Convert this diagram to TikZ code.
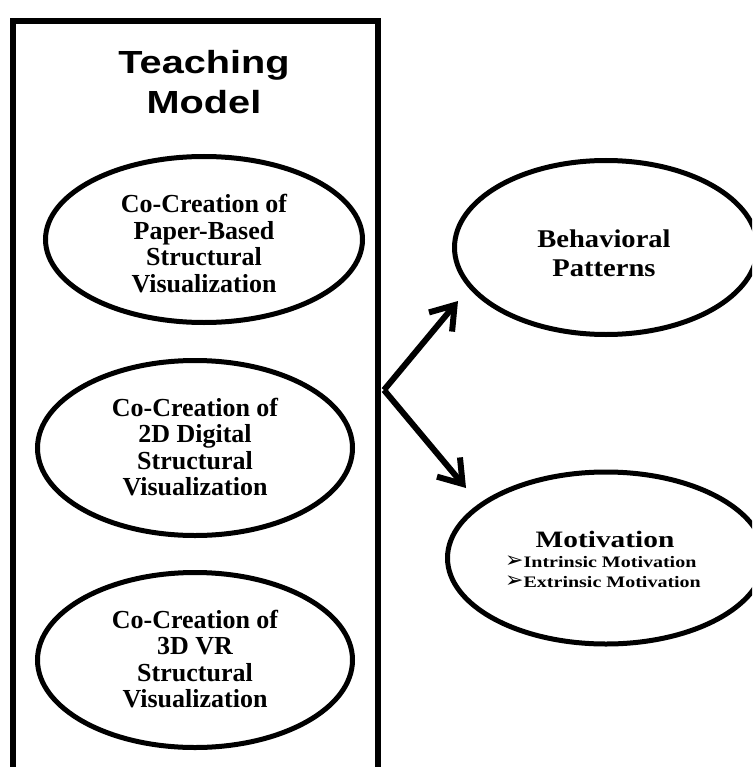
\documentclass[tikz,border=0pt]{standalone}
\usepackage{fontspec}
\setmainfont{Liberation Serif}
\newfontfamily\headfont{Liberation Sans}[FakeStretch=1.24]
\newfontfamily\wideserif{Liberation Serif}[FakeStretch=1.12]
\newfontfamily\widerserif{Liberation Serif}[FakeStretch=1.25]
\newfontfamily\listserif{Liberation Serif}[FakeStretch=1.25]
\newfontfamily\dingfont{DejaVu Sans}
\usetikzlibrary{shapes.geometric,arrows.meta}

\begin{document}
\begin{tikzpicture}[x=1pt,y=-1pt,
  oval/.style={draw, ellipse, line width=5pt, inner sep=0pt},
  ovaltext/.style={align=center, inner sep=0pt, font=\bfseries\fontsize{26}{26.5}\selectfont},
  flow/.style={line width=6pt, -{Straight Barb[length=22pt,width=30pt]}},
  bulletmark/.style={}
]
\useasboundingbox (0,0) rectangle (752,767);
\clip (0,0) rectangle (752,767);

% teaching model frame
\node[draw, line width=6pt, minimum width=365.5pt, minimum height=749pt, inner sep=0pt]
  (model) at (195.25,395.5) {};
\node[font=\headfont\bfseries\fontsize{32}{40}\selectfont, align=center, inner sep=0pt]
  (title) at (204,82) {Teaching\\Model};

% the three co-creation approaches
\node[oval, minimum width=317pt, minimum height=166pt] (paper) at (204,239.5) {};
\node[ovaltext] (papertext) at (204,243.5) {Co-Creation of\\Paper-Based\\Structural\\Visualization};

\node[oval, minimum width=315pt, minimum height=175pt] (digital) at (195,448) {};
\node[ovaltext] (digitaltext) at (195,447) {Co-Creation of\\2D Digital\\Structural\\Visualization};

\node[oval, minimum width=315pt, minimum height=175pt] (vr) at (195,660) {};
\node[ovaltext] (vrtext) at (195,659) {Co-Creation of\\3D VR\\Structural\\Visualization};

% outcomes
\node[oval, minimum width=303pt, minimum height=174pt] (behav) at (606,247.5) {};
\node[font=\wideserif\bfseries\fontsize{25.5}{29}\selectfont, align=center, inner sep=0pt]
  (behavtext) at (604,253) {Behavioral\\Patterns};

\node[oval, minimum width=317pt, minimum height=172pt] (motiv) at (606,558) {};
\node[font=\widerserif\bfseries\fontsize{23.5}{27}\selectfont, inner sep=0pt, anchor=base]
  (motivtext) at (605,547) {Motivation};
\node[font=\listserif\bfseries\fontsize{16}{18}\selectfont, inner sep=0pt, anchor=base west]
  (intrinsic) at (505,567) {{\dingfont\fontsize{22}{18}\selectfont ➢}Intrinsic Motivation};
\node[font=\listserif\bfseries\fontsize{16}{18}\selectfont, inner sep=0pt, anchor=base west]
  (extrinsic) at (505,587) {{\dingfont\fontsize{22}{18}\selectfont ➢}Extrinsic Motivation};

% arrows from the model to the outcomes
\coordinate (fork) at ([shift={(3,-5.5)}]model.east);
\coordinate (tipbehav) at (458,301);
\coordinate (tipmotiv) at (466,488);
\draw[flow] (fork) -- (tipbehav);
\draw[flow] (fork) -- (tipmotiv);
\end{tikzpicture}
\end{document}
